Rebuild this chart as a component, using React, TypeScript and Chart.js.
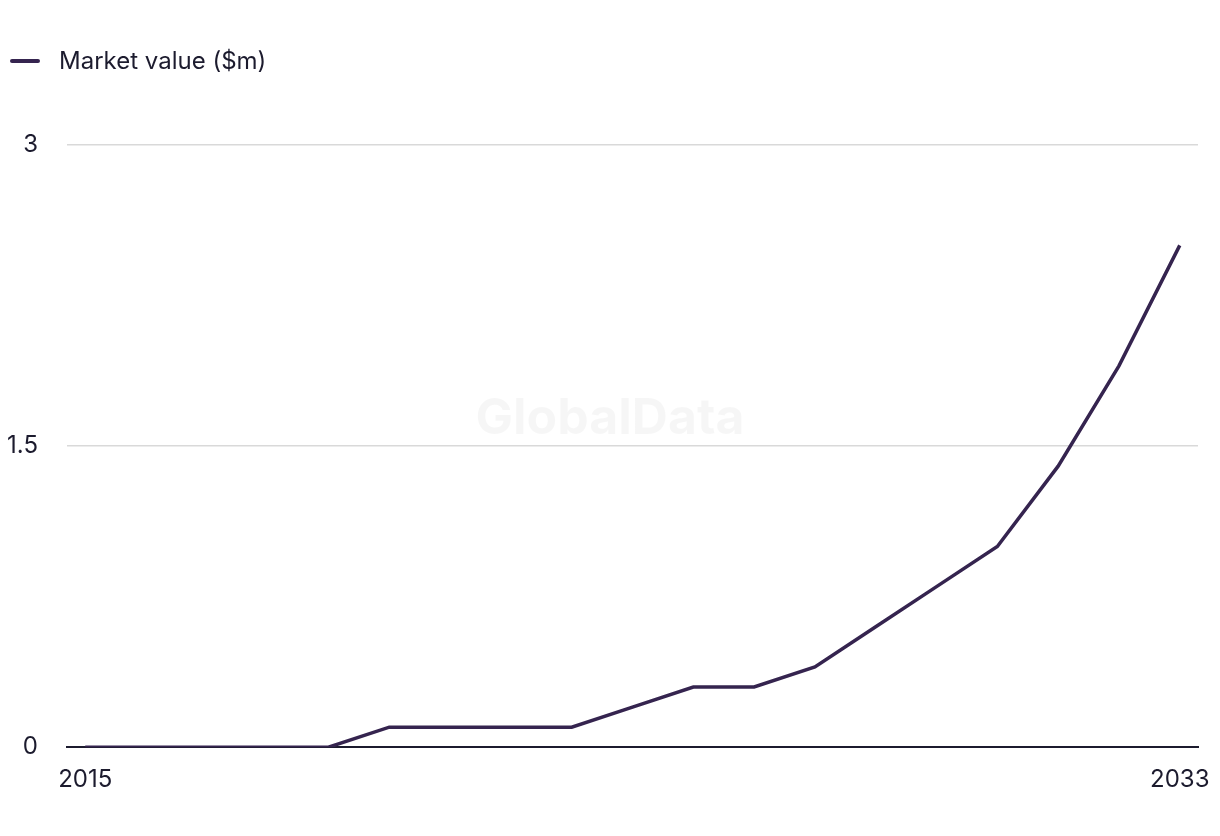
import React, { useEffect, useRef } from "react";
import { Chart, registerables } from "chart.js";

Chart.register(...registerables);

const years = [2015, 2016, 2017, 2018, 2019, 2020, 2021, 2022, 2023, 2024, 2025, 2026, 2027, 2028, 2029, 2030, 2031, 2032, 2033];
const marketValue = [0, 0, 0, 0, 0, 0.1, 0.1, 0.1, 0.1, 0.2, 0.3, 0.3, 0.4, 0.6, 0.8, 1.0, 1.4, 1.9, 2.5];
const yTicks = [0, 1.5, 3];
const xTicks = [2015, 2033];
const seriesLabel = "Market value ($m)";
const watermark = "GlobalData";

const LINE_COLOR = "#35244f";
const TEXT_COLOR = "#1c1b2e";
const FONT = "Inter, 'Noto Sans', sans-serif";

const watermarkPlugin = {
  id: "watermark",
  beforeDatasetsDraw(chart: any) {
    const { ctx } = chart;
    ctx.save();
    ctx.font = "bold 50px " + FONT;
    ctx.fillStyle = "rgba(0,0,0,0.035)";
    ctx.textAlign = "center";
    ctx.textBaseline = "middle";
    ctx.fillText(watermark, 610, 419);
    ctx.restore();
  },
};

export default function App() {
  const canvasRef = useRef<HTMLCanvasElement | null>(null);

  useEffect(() => {
    document.body.style.margin = "0";
    const canvas = canvasRef.current;
    if (!canvas) return;
    const chart = new Chart(canvas, {
      type: "line",
      data: {
        datasets: [
          {
            label: seriesLabel,
            data: years.map((y, i) => ({ x: y, y: marketValue[i] })),
            borderColor: LINE_COLOR,
            backgroundColor: LINE_COLOR,
            borderWidth: 3.5,
            pointRadius: 0,
            tension: 0,
          },
        ],
      },
      plugins: [watermarkPlugin],
      options: {
        animation: false,
        responsive: true,
        maintainAspectRatio: false,
        layout: { padding: { top: 145, right: 22, bottom: 24, left: 0 } },
        plugins: {
          legend: { display: false },
          tooltip: { enabled: false },
        },
        scales: {
          x: {
            type: "linear",
            min: 2014.7,
            max: 2033.3,
            afterBuildTicks: (scale: any) => {
              scale.ticks = xTicks.map((v) => ({ value: v }));
            },
            afterFit: (scale: any) => {
              scale.paddingLeft = 0;
              scale.paddingRight = 0;
            },
            grid: { display: false, drawTicks: false },
            border: { display: true, color: TEXT_COLOR, width: 2 },
            ticks: {
              color: TEXT_COLOR,
              font: { family: FONT, size: 24 },
              padding: 18,
              maxRotation: 0,
              autoSkip: false,
              callback: (v: any) => String(v),
            },
          },
          y: {
            min: 0,
            max: 3,
            afterBuildTicks: (scale: any) => {
              scale.ticks = yTicks.map((v) => ({ value: v }));
            },
            afterFit: (scale: any) => {
              scale.width = 67;
            },
            grid: { color: "#d9d9d9", lineWidth: 1.5, drawTicks: false },
            border: { display: false },
            ticks: {
              color: TEXT_COLOR,
              font: { family: FONT, size: 24 },
              padding: 29,
              callback: (v: any) => String(v),
            },
          },
        },
      },
    });
    return () => chart.destroy();
  }, []);

  return (
    <div style={{ position: "relative", width: 1220, height: 836, background: "#fff" }}>
      <div
        style={{
          position: "absolute",
          left: 10,
          top: 46,
          display: "flex",
          alignItems: "center",
          fontFamily: FONT,
          fontSize: 24,
          lineHeight: "30px",
          color: TEXT_COLOR,
          zIndex: 1,
        }}
      >
        <span style={{ display: "inline-block", width: 30, height: 4, background: LINE_COLOR, borderRadius: 2, marginRight: 19 }} />
        <span>{seriesLabel}</span>
      </div>
      <canvas ref={canvasRef} style={{ position: "absolute", left: 0, top: 0, width: 1220, height: 836 }} />
    </div>
  );
}
